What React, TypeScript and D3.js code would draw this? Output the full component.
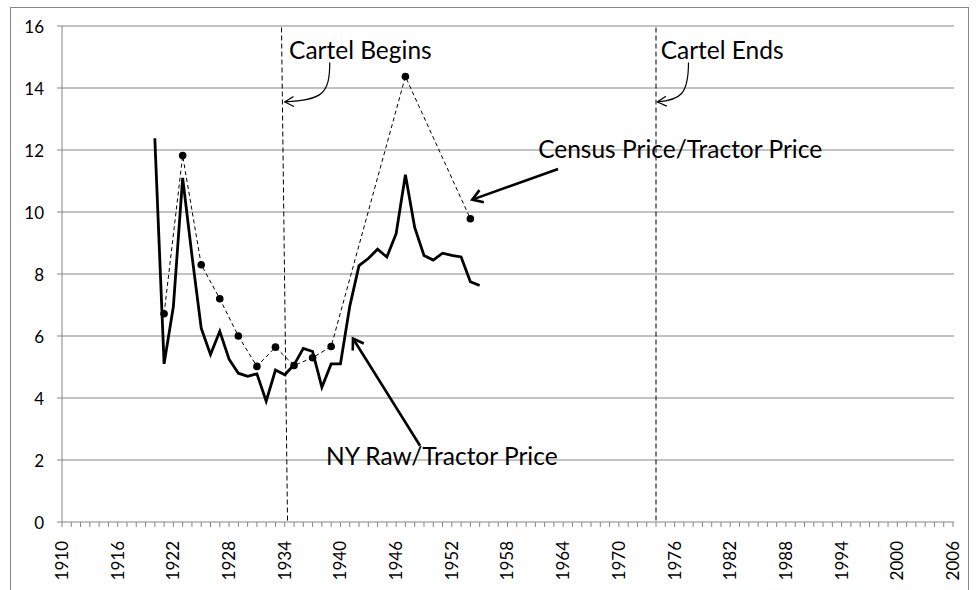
import React from 'react';
import * as d3 from 'd3';

// NY raw price / tractor price, annual
const nyYears = [1920, 1921, 1922, 1923, 1924, 1925, 1926, 1927, 1928, 1929, 1930, 1931, 1932, 1933, 1934, 1935, 1936, 1937,
  1938, 1939, 1940, 1941, 1942, 1943, 1944, 1945, 1946, 1947, 1948, 1949, 1950, 1951, 1952, 1953, 1954, 1955];
const nyValues = [12.38, 5.1, 6.95, 11.1, 8.6, 6.25, 5.4, 6.15, 5.25, 4.8, 4.7, 4.78, 3.9, 4.9, 4.75, 5.07, 5.6, 5.5,
  4.35, 5.1, 5.1, 6.95, 8.27, 8.5, 8.8, 8.55, 9.3, 11.2, 9.5, 8.6, 8.45, 8.67, 8.6, 8.55, 7.75, 7.63];

// census price / tractor price, census years
const censusYears = [1921, 1923, 1925, 1927, 1929, 1931, 1933, 1935, 1937, 1939, 1947, 1954];
const censusValues = [6.72, 11.82, 8.3, 7.2, 6.0, 5.02, 5.64, 5.05, 5.3, 5.66, 14.37, 9.78];

const yTicks = [0, 2, 4, 6, 8, 10, 12, 14, 16];
const xLabelYears = d3.range(1910, 2007, 6);
const xMinorYears = d3.range(1910, 2007, 1);

const cartelBegin = 1934;
const cartelEnd = 1974;

const W = 978;
const H = 590;
const FONT = 'Lato, "Open Sans", sans-serif';
const GRID = '#868686';

export default function App() {
  const x = d3.scaleLinear().domain([1910, 2006]).range([62, 953]);
  const y = d3.scaleLinear().domain([0, 16]).range([522, 26]);

  const nyData = nyYears.map((yr, i) => ({ yr, v: nyValues[i] }));
  const censusData = censusYears.map((yr, i) => ({ yr, v: censusValues[i] }));

  const line = d3
    .line<{ yr: number; v: number }>()
    .x(d => x(d.yr))
    .y(d => y(d.v));

  // curved callout: drops down from the label, then sweeps left to the dashed line
  const curve = (x0: number, y0: number, x1: number, y1: number) => {
    const p = d3.path();
    p.moveTo(x(x0), y(y0));
    p.bezierCurveTo(x(x0), y(y0) + 32, x(x0) - 8, y(y1) - 2, x(x1), y(y1));
    return p.toString();
  };

  return (
    <svg width={W} height={H} style={{ position: 'absolute', left: 0, top: 0 }}>
      <defs>
        <marker id="thin" markerUnits="userSpaceOnUse" markerWidth="14" markerHeight="14"
          viewBox="-12 -7 14 14" refX="0" refY="0" orient="auto">
          <path d="M-9,-5 L0,0 L-9,5" fill="none" stroke="#000" strokeWidth="1.2" />
        </marker>
        <marker id="thick" markerUnits="userSpaceOnUse" markerWidth="18" markerHeight="18"
          viewBox="-14 -9 18 18" refX="0" refY="0" orient="auto">
          <path d="M-10,-6.5 L0,0 L-10,6.5" fill="none" stroke="#000" strokeWidth="2.6" />
        </marker>
      </defs>
      <rect x={10.5} y={7.5} width={958} height={640} fill="#fff" stroke={GRID} strokeWidth={1} />

      {/* gridlines */}
      <g>
        {yTicks.map(t => (
          <line key={t} x1={57} x2={x(2006) + 1} y1={y(t)} y2={y(t)} stroke={GRID} strokeWidth={1} />
        ))}
        <line x1={62} x2={62} y1={y(16)} y2={y(0)} stroke={GRID} strokeWidth={1} />
      </g>

      {/* y labels */}
      <g fontFamily={FONT} fontSize={17} fill="#000">
        {yTicks.map(t => (
          <text key={t} x={44} y={y(t)} textAnchor="end" dominantBaseline="central">{t}</text>
        ))}
      </g>

      {/* x minor ticks + labels */}
      <g>
        {xMinorYears.map(yr => (
          <line key={yr} x1={x(yr)} x2={x(yr)} y1={y(0)} y2={y(0) + 5} stroke={GRID} strokeWidth={1} />
        ))}
      </g>
      <g fontFamily={FONT} fontSize={17} fill="#000">
        {xLabelYears.map(yr => (
          <text key={yr} transform={`translate(${x(yr)},541) rotate(-90)`} textAnchor="end" dy="0.35em">{yr}</text>
        ))}
      </g>

      {/* cartel markers */}
      <line x1={x(cartelBegin - 0.35)} x2={x(cartelBegin + 0.3)} y1={y(15.95)} y2={y(0)}
        stroke="#000" strokeWidth={1} strokeDasharray="5,3" />
      <line x1={x(cartelEnd)} x2={x(cartelEnd)} y1={y(15.95)} y2={y(0)}
        stroke="#000" strokeWidth={1} strokeDasharray="5,3" />

      {/* series */}
      <path d={line(censusData) || ''} fill="none" stroke="#000" strokeWidth={1} strokeDasharray="4,3" />
      {censusData.map(d => (
        <circle key={d.yr} cx={x(d.yr)} cy={y(d.v)} r={3.8} fill="#000" />
      ))}
      <path d={line(nyData) || ''} fill="none" stroke="#000" strokeWidth={2.8} strokeLinejoin="miter" />

      {/* annotations */}
      <g fontFamily={FONT} fontSize={24.5} fill="#000">
        <text x={x(1934.46)} y={y(14.94)}>Cartel Begins</text>
        <text x={x(1974.5)} y={y(14.94)}>Cartel Ends</text>
        <text x={x(1961.3)} y={y(11.74)}>Census Price/Tractor Price</text>
        <text x={x(1938.45)} y={y(1.85)}>NY Raw/Tractor Price</text>
      </g>
      <path d={curve(1938.85, 14.82, 1934.0, 13.55)} fill="none" stroke="#000" strokeWidth={1.2}
        markerEnd="url(#thin)" />
      <path d={curve(1977.5, 14.82, 1974.15, 13.55)} fill="none" stroke="#000" strokeWidth={1.2}
        markerEnd="url(#thin)" />
      <line x1={x(1963.45)} y1={y(11.39)} x2={x(1954.2)} y2={y(10.4)} stroke="#000" strokeWidth={2.6}
        markerEnd="url(#thick)" />
      <line x1={x(1948.58)} y1={y(2.46)} x2={x(1941.35)} y2={y(5.92)} stroke="#000" strokeWidth={2.6}
        markerEnd="url(#thick)" />
    </svg>
  );
}
